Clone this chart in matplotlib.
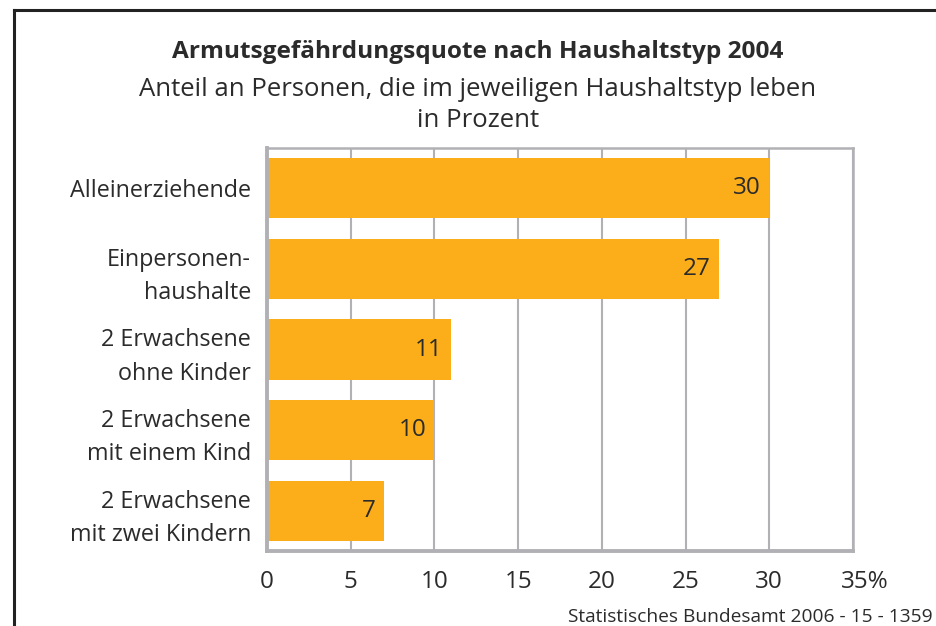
import matplotlib
matplotlib.use("Agg")
import matplotlib.pyplot as plt
from matplotlib.transforms import ScaledTranslation
from matplotlib.lines import Line2D

plt.rcParams['font.family'] = ['Open Sans', 'DejaVu Sans']

categories = ["Alleinerziehende", "Einpersonen-\nhaushalte", "2 Erwachsene\nohne Kinder",
              "2 Erwachsene\nmit einem Kind", "2 Erwachsene\nmit zwei Kindern"]
values = [30, 27, 11, 10, 7]
xticks = [0, 5, 10, 15, 20, 25, 30, 35]
xticklabels = ["0", "5", "10", "15", "20", "25", "30", "35%"]

title = "Armutsgefährdungsquote nach Haushaltstyp 2004"
subtitle = "Anteil an Personen, die im jeweiligen Haushaltstyp leben\nin Prozent"
source = "Statistisches Bundesamt 2006 - 15 - 1359"

bar_color = "#FBAE19"
grid_color = "#B1B1B5"
text_color = "#2B2B2B"

fig = plt.figure(figsize=(9.36, 6.26), dpi=100)
ax = fig.add_axes([267/936, 75/626, 586/936, 403/626])

ypos = list(range(len(categories)))
ax.barh(ypos, values, height=0.745, color=bar_color, zorder=2)
ax.set_ylim(len(categories) - 0.5, -0.5)
ax.set_xlim(0, 35)
ax.set_xticks(xticks)
ax.set_xticklabels(xticklabels)
ax.set_yticks(ypos)
ax.set_yticklabels(categories, linespacing=1.5)
ax.tick_params(axis='both', length=0, colors=text_color)
ax.tick_params(axis='x', pad=13.5, labelsize=17.5)
ax.tick_params(axis='y', pad=11.5, labelsize=16.8)
for lbl in ax.get_yticklabels():
    lbl.set_multialignment('right')

# shift the "35%" label so that "35" stays centered on the tick
last = ax.get_xticklabels()[-1]
last.set_transform(last.get_transform() + ScaledTranslation(12/100, 0, fig.dpi_scale_trans))

ax.grid(axis='x', color=grid_color, linewidth=1.5, zorder=1)
ax.set_axisbelow(True)
for side in ['top', 'right']:
    ax.spines[side].set_color(grid_color)
    ax.spines[side].set_linewidth(1.8)
for side in ['left', 'bottom']:
    ax.spines[side].set_color(grid_color)
    ax.spines[side].set_linewidth(2.8)
    ax.spines[side].set_zorder(3)

for y, v in zip(ypos, values):
    ax.annotate(str(v), xy=(v, y), xytext=(-6, 0), textcoords='offset points',
                ha='right', va='center', fontsize=17.5, color=text_color, zorder=4)

fig.text(478/936, 1 - 52/626, title, ha='center', va='center', fontsize=17.6,
         fontweight='bold', color=text_color)
fig.text(478/936, 1 - 105/626, subtitle, ha='center', va='center', fontsize=18.5,
         color=text_color, linespacing=1.33)
fig.text(933/936, 1 - 617/626, source, ha='right', va='center', fontsize=13.8,
         color=text_color)

# outer frame (top and left edges)
fig.add_artist(Line2D([13.5/936, 13.5/936], [0, 1 - 10/626], transform=fig.transFigure,
                      color="#222222", linewidth=2.2))
fig.add_artist(Line2D([13.5/936, 1], [1 - 10/626, 1 - 10/626], transform=fig.transFigure,
                      color="#222222", linewidth=2.2))

fig.savefig("out.png", dpi=100)
